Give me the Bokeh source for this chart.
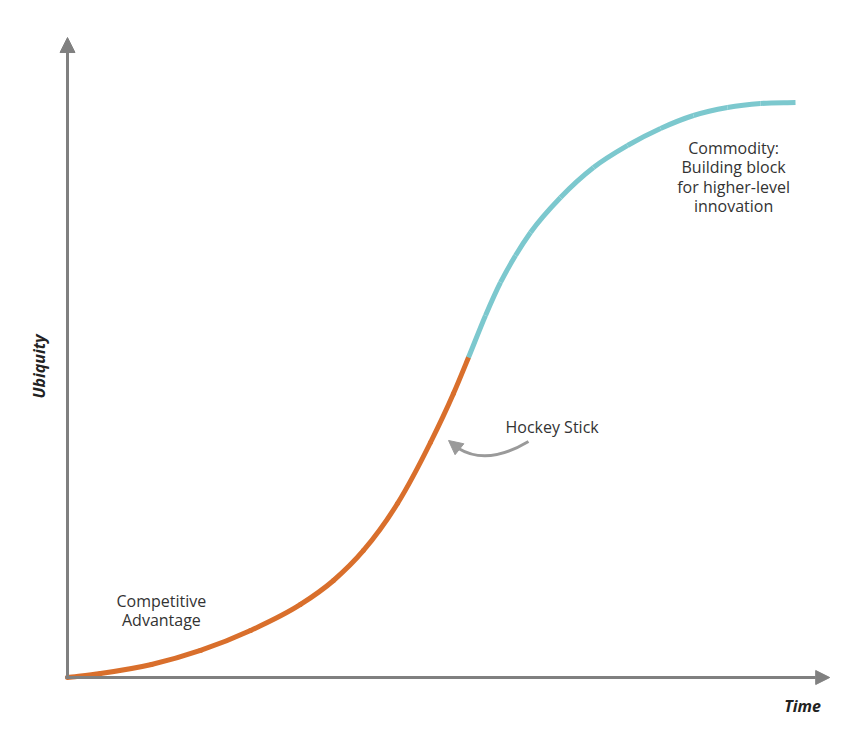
import math
from bokeh.plotting import figure
from bokeh.models import Range1d, Arrow, NormalHead
from bokeh.core.properties import value
from bokeh.embed import file_html
from bokeh.resources import INLINE

# ---- data (time 0..100, ubiquity 0..100) ----
orange_time = [0, 4.53, 11.54, 18.27, 25.14, 32.01, 36.54, 40.66, 45.33, 49.86, 53.02, 55.08]
orange_ubiq = [0, 0.70, 2.26, 4.70, 8.17, 12.70, 16.87, 22.09, 30.26, 40.87, 49.39, 55.65]
teal_time = [55.08, 57.42, 59.48, 61.54, 63.60, 67.72, 72.25, 76.92, 81.46, 85.99, 90.66, 95.19, 100]
teal_ubiq = [55.65, 62.96, 68.70, 73.39, 77.39, 83.48, 88.70, 92.52, 95.48, 97.74, 99.13, 99.83, 100]

axis_x_end = 104.7
axis_y_end = 111.3

commodity_lines = ["Commodity:", "Building block", "for higher-level", "innovation"]
commodity_x = [91.5, 91.5, 91.5, 91.5]
commodity_y = [92.17, 88.78, 85.39, 82.0]

competitive_lines = ["Competitive", "Advantage"]
competitive_x = [12.9, 12.9]
competitive_y = [13.3, 10.0]

hockey_label = ["Hockey Stick"]
hockey_x = [60.16]
hockey_y = [43.65]

# curved pointer: start, control, end, tip
pointer_x = [63.32, 57.69, 53.71, 52.34]
pointer_y = [41.04, 36.78, 39.83, 41.22]

FONT = "Open Sans"
AXIS_COLOR = "#808080"
ORANGE = "#D96F2C"
TEAL = "#7CC8CE"

p = figure(width=855, height=739, output_backend="svg", toolbar_location=None,
           x_range=Range1d(-67 / 7.28, (855 - 67) / 7.28),
           y_range=Range1d(-(739 - 677) / 5.75, 677 / 5.75),
           min_border=0)
p.axis.visible = False
p.grid.visible = False
p.outline_line_color = None
p.background_fill_color = "white"
p.border_fill_color = "white"

# axes as arrows
p.add_layout(Arrow(x_start=0, y_start=0, x_end=0, y_end=axis_y_end,
                   line_color=AXIS_COLOR, line_width=3,
                   end=NormalHead(size=15, fill_color=AXIS_COLOR, line_color=AXIS_COLOR, line_width=1)))
p.add_layout(Arrow(x_start=-0.3, y_start=0, x_end=axis_x_end, y_end=0,
                   line_color=AXIS_COLOR, line_width=3,
                   end=NormalHead(size=14, fill_color=AXIS_COLOR, line_color=AXIS_COLOR, line_width=1)))

# smooth curve through the read points (cubic Hermite segments drawn as Bezier glyphs)
xs = orange_time + teal_time[1:]
ys = orange_ubiq + teal_ubiq[1:]
N = len(xs)
h = [xs[i + 1] - xs[i] for i in range(N - 1)]
dsl = [(ys[i + 1] - ys[i]) / h[i] for i in range(N - 1)]
m = [dsl[0]]
for i in range(1, N - 1):
    m.append((dsl[i - 1] * h[i] + dsl[i] * h[i - 1]) / (h[i - 1] + h[i]))
m.append(dsl[-1])

n_orange = len(orange_time) - 1
segs = {ORANGE: dict(x0=[], y0=[], x1=[], y1=[], cx0=[], cy0=[], cx1=[], cy1=[]),
        TEAL: dict(x0=[], y0=[], x1=[], y1=[], cx0=[], cy0=[], cx1=[], cy1=[])}
for i in range(N - 1):
    d = segs[ORANGE] if i < n_orange else segs[TEAL]
    d["x0"].append(xs[i]); d["y0"].append(ys[i])
    d["x1"].append(xs[i + 1]); d["y1"].append(ys[i + 1])
    d["cx0"].append(xs[i] + h[i] / 3)
    d["cy0"].append(ys[i] + m[i] * h[i] / 3)
    d["cx1"].append(xs[i + 1] - h[i] / 3)
    d["cy1"].append(ys[i + 1] - m[i + 1] * h[i] / 3)

p.bezier(line_color=ORANGE, line_width=5, line_cap="round", **segs[ORANGE])
p.bezier(line_color=TEAL, line_width=5, line_cap="butt", **segs[TEAL])

# pointer
p.quadratic(x0=[pointer_x[0]], y0=[pointer_y[0]], x1=[pointer_x[2]], y1=[pointer_y[2]],
            cx=[pointer_x[1]], cy=[pointer_y[1]], line_color="#9A9A9A", line_width=3)
p.add_layout(Arrow(x_start=pointer_x[2], y_start=pointer_y[2], x_end=pointer_x[3], y_end=pointer_y[3],
                   line_alpha=0, line_width=1,
                   end=NormalHead(size=14, fill_color="#9A9A9A", line_color="#9A9A9A", line_width=1)))

# labels
p.text(commodity_x, commodity_y, text=commodity_lines, text_font=value(FONT), text_font_size="16px",
       text_color="#333333", text_align="center", text_baseline="middle")
p.text(competitive_x, competitive_y, text=competitive_lines, text_font=value(FONT), text_font_size="16px",
       text_color="#333333", text_align="center", text_baseline="middle")
p.text(hockey_x, hockey_y, text=hockey_label, text_font=value(FONT), text_font_size="16px",
       text_color="#333333", text_align="left", text_baseline="middle")

p.text([-3.85], [54.09], text=["Ubiquity"], angle=math.pi / 2, text_font=value(FONT),
       text_font_size="16px", text_font_style="bold italic", text_color="#222222",
       text_align="center", text_baseline="middle")
p.text([100.96], [-4.87], text=["Time"], text_font=value(FONT),
       text_font_size="16px", text_font_style="bold italic", text_color="#222222",
       text_align="center", text_baseline="middle")

open("out.html", "w").write(file_html(p, INLINE))
